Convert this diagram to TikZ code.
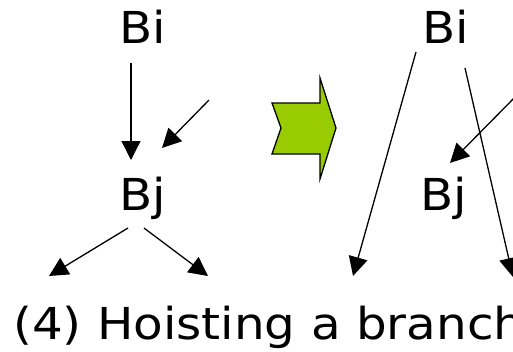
\documentclass[tikz,border=0pt]{standalone}
\usepackage{fontspec}
\setmainfont{DejaVu Sans}
\usetikzlibrary{arrows.meta}
\definecolor{arrowgreen}{RGB}{153,204,0}
\newcommand{\wide}[1]{\scalebox{1.1}[1]{#1}}
\begin{document}
\begin{tikzpicture}[x=1pt,y=-1pt,
  lbl/.style={font=\fontsize{44}{52}\selectfont, inner sep=0pt, anchor=base},
  arr/.style={line width=1.3pt, -{Triangle[length=19pt,width=19pt]}}]
\useasboundingbox (0,0) rectangle (513,351);
% left diagram
\node[lbl] (Bi1) at (143,43) {\wide{Bi}};
\node[lbl] (Bj1) at (143,210) {\wide{Bj}};
\coordinate (a1s) at (131,63);
\coordinate (a1e) at (131,160);
\coordinate (a2s) at (209,100);
\coordinate (a2e) at (162,148);
\coordinate (a3s) at (128,228);
\coordinate (a3e) at (49,276);
\coordinate (a4s) at (144,228);
\coordinate (a4e) at (208,276);
\draw[arr] (a1s) -- (a1e);
\draw[arr] (a2s) -- (a2e);
\draw[arr] (a3s) -- (a3e);
\draw[arr] (a4s) -- (a4e);
% green block arrow
\draw[line width=1.3pt, fill=arrowgreen, line join=miter]
  (272,103) -- (320,103) -- (320,78) -- (336,128) -- (320,179) -- (320,154) -- (272,154) -- (281,128) -- cycle;
% right diagram
\node[lbl] (Bi2) at (446,43) {\wide{Bi}};
\node[lbl] (Bj2) at (444,210) {\wide{Bj}};
\coordinate (b1s) at (416,52);
\coordinate (b1e) at (353,276);
\coordinate (b2s) at (465,68);
\coordinate (b2e) at (513,277);
\coordinate (b3s) at (522,90);
\coordinate (b3e) at (450,163);
\draw[arr] (b1s) -- (b1e);
\draw[arr] (b2s) -- (b2e);
\draw[arr] (b3s) -- (b3e);
% caption
\node[lbl, anchor=base west] (cap) at (13,339) {\wide{(4) Hoisting a branch}};
\end{tikzpicture}
\end{document}
